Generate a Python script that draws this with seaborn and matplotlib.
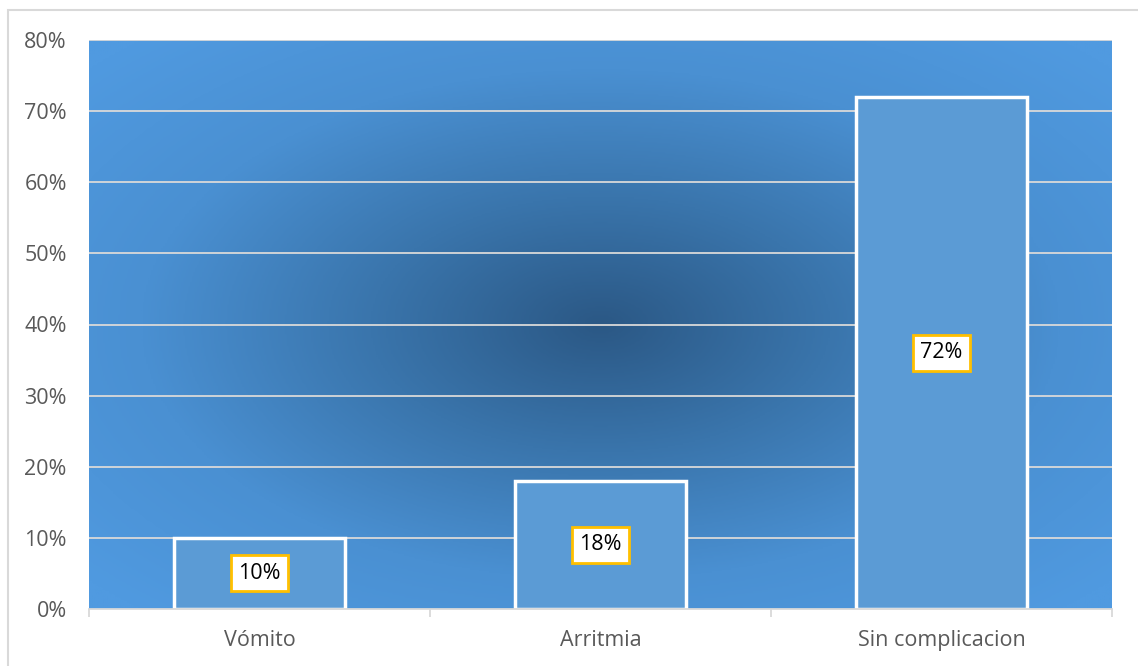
import numpy as np
import pandas as pd
import matplotlib
matplotlib.use("Agg")
import matplotlib.pyplot as plt
from matplotlib.colors import LinearSegmentedColormap
from matplotlib.patches import Rectangle
import seaborn as sns

categories = ["Vómito", "Arritmia", "Sin complicacion"]
values = [10, 18, 72]
y_ticks = [0, 10, 20, 30, 40, 50, 60, 70, 80]

sns.set_theme(style="white")
plt.rcParams["font.family"] = ["Open Sans", "DejaVu Sans"]

fig = plt.figure(figsize=(11.38, 6.66), dpi=100)
ax = fig.add_axes([89 / 1138, 57 / 666, 1023 / 1138, 569 / 666])

# radial shaded background of the plot area
cmap = LinearSegmentedColormap.from_list("bg", ["#2b5885", "#3a75ac", "#4a90d2", "#509ae0"])
gx, gy = np.meshgrid(np.linspace(-1, 1, 600), np.linspace(-1, 1, 400))
r = np.sqrt(gx ** 2 + gy ** 2)
r = np.clip(r / 1.35, 0, 1)
ax.imshow(r, cmap=cmap, vmin=0, vmax=1, extent=(-0.5, 2.5, 0, 80),
          aspect="auto", origin="lower", zorder=0, interpolation="bilinear")

df = pd.DataFrame({"cat": categories, "val": values})
sns.barplot(data=df, x="cat", y="val", color="#5b9bd5", width=0.5,
            edgecolor="white", linewidth=2.5, saturation=1, ax=ax, zorder=3)

for i, v in enumerate(values):
    ax.text(i, v / 2, f"{v}%", ha="center", va="center", fontsize=15.5,
            color="black", zorder=5,
            bbox=dict(boxstyle="square,pad=0.35", facecolor="white",
                      edgecolor="#ffc000", linewidth=2))

ax.set_xlim(-0.5, 2.5)
ax.set_ylim(0, 80)
ax.set_yticks(y_ticks)
ax.set_yticklabels([f"{t}%" for t in y_ticks])
for t in y_ticks[1:]:
    ax.axhline(t, color="#d9d9d9", linewidth=1.3, zorder=2)

ax.set_xlabel("")
ax.set_ylabel("")
for s in ["top", "right", "left"]:
    ax.spines[s].set_visible(False)
ax.spines["bottom"].set_color("#d9d9d9")
ax.spines["bottom"].set_linewidth(1.3)
ax.spines["bottom"].set_zorder(4)

ax.tick_params(axis="y", length=0, pad=16, labelsize=15.5, labelcolor="#595959")
ax.tick_params(axis="x", length=0, pad=15, labelsize=15.5, labelcolor="#595959")
ax.set_xticks([-0.5, 0.5, 1.5, 2.5], minor=True)
ax.tick_params(axis="x", which="minor", length=6, width=1.3, color="#d9d9d9", bottom=True)

# chart frame
fig.patches.append(Rectangle((8 / 1138, -0.05), 1.2, (656 / 666) + 0.05,
                             transform=fig.transFigure, fill=False,
                             edgecolor="#d9d9d9", linewidth=1.5))

fig.savefig("out.png", dpi=100, facecolor="white")
